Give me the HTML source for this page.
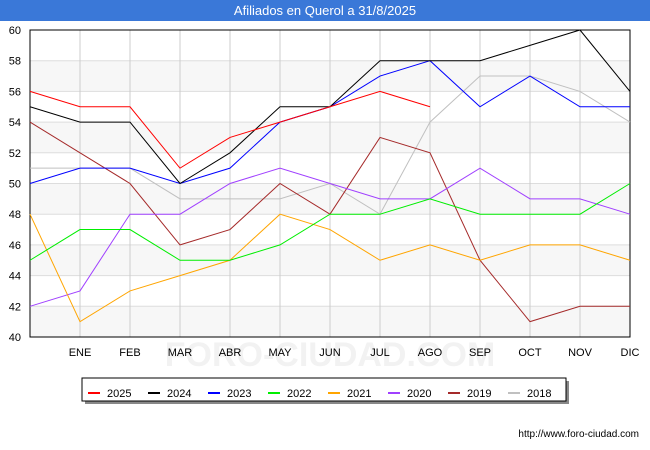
<!DOCTYPE html>
<html><head><meta charset="utf-8"><style>
body{margin:0;background:#fff;font-family:"Liberation Sans",sans-serif}
#wrap{position:relative;width:650px;height:450px;overflow:hidden}
</style></head><body>
<div id="wrap">
<svg id="svg" width="650" height="450" xmlns="http://www.w3.org/2000/svg" font-family="Liberation Sans, sans-serif">
<rect x="0" y="0" width="650" height="21" fill="#3a78d8"/>
<text x="325" y="15" fill="#fff" font-size="13" text-anchor="middle">Afiliados en Querol a 31/8/2025</text>
<text x="330" y="366" fill="#f2f2f2" font-size="34" text-anchor="middle" font-weight="bold">FORO-CIUDAD.COM</text>
<g id="plot"></g>
<g id="legend"></g>
<text x="639" y="437" font-size="10" text-anchor="end" fill="#000">http://www.foro-ciudad.com</text>
</svg>
</div>
<script>
const months=["","ENE","FEB","MAR","ABR","MAY","JUN","JUL","AGO","SEP","OCT","NOV","DIC"];
const yTicks=[40,42,44,46,48,50,52,54,56,58,60];
const seriesNames=["2025","2024","2023","2022","2021","2020","2019","2018"];
const seriesColors=["#ff0000","#000000","#0000ff","#00ee00","#ffa500","#a040ff","#a52a2a","#c0c0c0"];
const s2025=[56,55,55,51,53,54,55,56,55];
const s2024=[55,54,54,50,52,55,55,58,58,58,59,60,56];
const s2023=[50,51,51,50,51,54,55,57,58,55,57,55,55];
const s2022=[45,47,47,45,45,46,48,48,49,48,48,48,50];
const s2021=[48,41,43,44,45,48,47,45,46,45,46,46,45];
const s2020=[42,43,48,48,50,51,50,49,49,51,49,49,48];
const s2019=[54,52,50,46,47,50,48,53,52,45,41,42,42];
const s2018=[51,51,51,49,49,49,50,48,54,57,57,56,54];
const seriesData=[s2025,s2024,s2023,s2022,s2021,s2020,s2019,s2018];
const X0=30,X1=630,Y0=337,Y1=30,ymin=40,ymax=60;
const xs=i=>X0+i*(X1-X0)/(months.length-1);
const ys=v=>Y0-(v-ymin)*(Y0-Y1)/(ymax-ymin);
const NS="http://www.w3.org/2000/svg";
function mk(t,a,p){const e=document.createElementNS(NS,t);for(const k in a)e.setAttribute(k,a[k]);p.appendChild(e);return e;}
const plot=document.getElementById('plot');
for(let i=0;i<yTicks.length-1;i++){ if(i%2==0){
 const r=mk('rect',{x:X0,y:ys(yTicks[i+1]),width:X1-X0,height:ys(yTicks[i])-ys(yTicks[i+1]),fill:'#f7f7f7'},plot);
 
 }}
yTicks.forEach(v=>{
 const l=mk('line',{x1:X0,x2:X1,y1:ys(v),y2:ys(v),stroke:'#dddddd'},plot);
 
 
 const t=mk('text',{x:21,y:ys(v)+4,'font-size':11,'text-anchor':'end',fill:'#000'},plot);t.textContent=v;
 
 
});
months.forEach((m,i)=>{
 const l=mk('line',{x1:xs(i),x2:xs(i),y1:Y1,y2:Y0,stroke:'#cccccc'},plot);
 
 
 const t=mk('text',{x:xs(i),y:356,'font-size':11,'text-anchor':'middle',fill:'#000'},plot);t.textContent=m;
 
 
});
const fr=mk('rect',{x:X0,y:Y1,width:X1-X0,height:Y0-Y1,fill:'none',stroke:'#000'},plot);


for(let k=seriesData.length-1;k>=0;k--){
 const pts=seriesData[k].map((v,i)=>xs(i)+','+ys(v)).join(' ');
 const p=mk('polyline',{points:pts,fill:'none',stroke:seriesColors[k],'stroke-width':1},plot);
 
 
}
const lg=document.getElementById('legend');
const sh=mk('rect',{x:85,y:381,width:484,height:23,fill:'#888'},lg);


const bx=mk('rect',{x:82,y:378,width:484,height:23,fill:'#fff',stroke:'#000'},lg);


seriesNames.forEach((n,k)=>{
 const x=88+k*60;
 const l=mk('line',{x1:x,x2:x+12,y1:393,y2:393,stroke:seriesColors[k],'stroke-width':2},lg);
 
 
 const t=mk('text',{x:x+19,y:397,'font-size':11,fill:'#000'},lg);t.textContent=n;
 
 
});
</script>
</body></html>
